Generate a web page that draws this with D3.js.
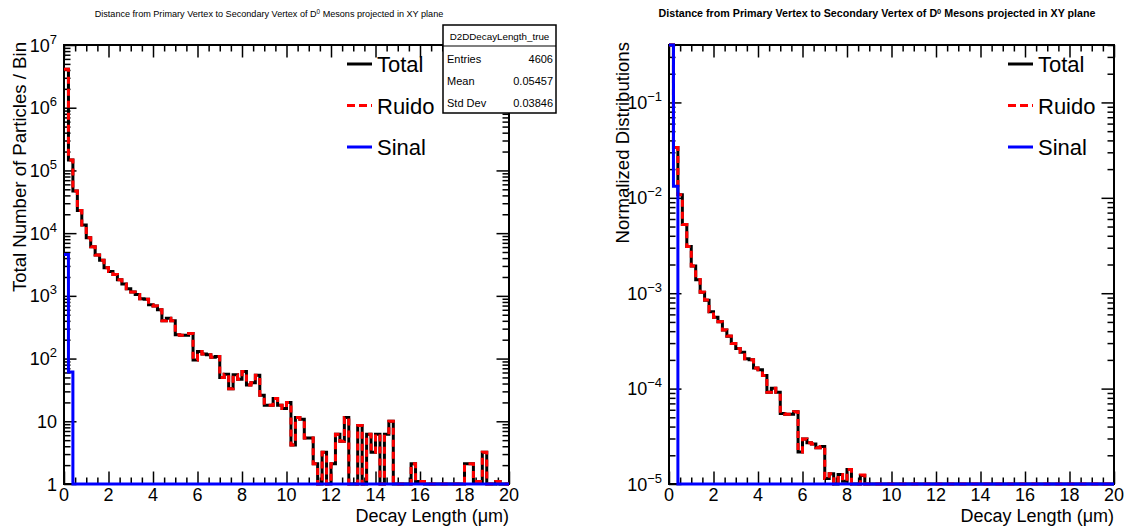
<!DOCTYPE html>
<html><head><meta charset="utf-8">
<script src="https://cdn.jsdelivr.net/npm/d3@7"></script>
<style>
body{margin:0;background:#fff}
svg{display:block}
text{font-family:"Liberation Sans",Arial,Helvetica,sans-serif;fill:#000}
</style>
</head><body>
<svg id="c" width="1128" height="527"></svg>
<script>
// ---------------- data ----------------
const xMin = 0, xMax = 20, nBins = 100;
const totalCounts = [
 4100000,147000,47000,23000,13500,8450,6070,4470,3700,2800,
 2450,2200,1800,1550,1300,1150,1050,900,880,720,
 690,600,400,440,400,240,235,235,250,95,
 130,118,115,105,108,50,56,33,55,47,
 62,38,41,54,26,18,18,23,18,16,
 20,4.2,11.5,10.8,5.4,5.4,2.1,0,3.2,0,
 2.1,6.2,4.8,11.5,0,0,8.6,0,6.2,3.2,
 6.2,0,6.2,10,0,0,0,0,2.1,1.1,
 1.1,0,0,0,0,0,0,0,0,0,
 2.1,2.1,1.1,1.1,3.2,0,0,1.1,0,0];
const noiseCounts = [
 4095455,146939,47000,23000,13500,8450,6070,4470,3700,2800,
 2450,2200,1800,1550,1300,1150,1050,900,880,720,
 690,600,400,440,400,240,235,235,250,95,
 130,118,115,105,108,50,56,33,55,47,
 62,38,41,54,26,18,18,23,18,16,
 20,4.2,11.5,10.8,5.4,5.4,2.1,0,3.2,0,
 2.1,6.2,4.8,11.5,0,0,8.6,0,6.2,3.2,
 6.2,0,6.2,10,0,0,0,0,2.1,1.1,
 1.1,0,0,0,0,0,0,0,0,0,
 2.1,2.1,1.1,1.1,3.2,0,0,1.1,0,0];
const signalCounts = [
 4545,61,0,0,0,0,0,0,0,0, 0,0,0,0,0,0,0,0,0,0,
 0,0,0,0,0,0,0,0,0,0, 0,0,0,0,0,0,0,0,0,0,
 0,0,0,0,0,0,0,0,0,0, 0,0,0,0,0,0,0,0,0,0,
 0,0,0,0,0,0,0,0,0,0, 0,0,0,0,0,0,0,0,0,0,
 0,0,0,0,0,0,0,0,0,0, 0,0,0,0,0,0,0,0,0,0];
const totalNorm = [
 0.937,0.0336,0.01074,0.00526,0.003086,0.001931,0.001387,0.001022,0.000846,0.00064,
 0.00056,0.000503,0.000411,0.000354,0.000297,0.000263,0.00024,0.000206,0.000201,0.0001646,
 0.0001577,0.0001371,0.0000914,0.0001006,0.0000914,5.49e-5,5.37e-5,5.37e-5,5.71e-5,2.17e-5,
 2.97e-5,2.70e-5,2.63e-5,2.40e-5,2.47e-5,1.14e-5,1.28e-5,7.5e-6,1.26e-5,1.07e-5,
 1.42e-5,8.7e-6,9.4e-6,1.23e-5,5.9e-6,4.1e-6,4.1e-6,5.3e-6,4.1e-6,3.7e-6,
 4.6e-6,9.6e-7,2.6e-6,2.5e-6,1.2e-6,1.2e-6,4.8e-7,0,7.3e-7,0,
 4.8e-7,1.4e-6,1.1e-6,2.6e-6,0,0,2.0e-6,0,1.4e-6,7.3e-7,
 1.4e-6,0,1.4e-6,2.3e-6,0,0,0,0,4.8e-7,2.5e-7,
 2.5e-7,0,0,0,0,0,0,0,0,0,
 4.8e-7,4.8e-7,2.5e-7,2.5e-7,7.3e-7,0,0,2.5e-7,0,0];
const noiseNorm = [
 0.9371,0.03362,0.01075,0.005265,0.003089,0.001933,0.001389,0.001023,0.000847,0.000641,
 0.000561,0.000503,0.000412,0.000355,0.000297,0.000263,0.00024,0.000206,0.000201,0.0001648,
 0.0001579,0.0001373,0.0000915,0.0001007,0.0000915,5.49e-5,5.38e-5,5.38e-5,5.72e-5,2.17e-5,
 2.97e-5,2.70e-5,2.63e-5,2.40e-5,2.47e-5,1.14e-5,1.28e-5,7.6e-6,1.26e-5,1.08e-5,
 1.42e-5,8.7e-6,9.4e-6,1.24e-5,5.9e-6,4.1e-6,4.1e-6,5.3e-6,4.1e-6,3.7e-6,
 4.6e-6,9.6e-7,2.6e-6,2.5e-6,1.2e-6,1.2e-6,4.8e-7,0,7.3e-7,0,
 4.8e-7,1.4e-6,1.1e-6,2.6e-6,0,0,2.0e-6,0,1.4e-6,7.3e-7,
 1.4e-6,0,1.4e-6,2.3e-6,0,0,0,0,4.8e-7,2.5e-7,
 2.5e-7,0,0,0,0,0,0,0,0,0,
 4.8e-7,4.8e-7,2.5e-7,2.5e-7,7.3e-7,0,0,2.5e-7,0,0];
const signalNorm = [
 0.9868,0.0132,0,0,0,0,0,0,0,0, 0,0,0,0,0,0,0,0,0,0,
 0,0,0,0,0,0,0,0,0,0, 0,0,0,0,0,0,0,0,0,0,
 0,0,0,0,0,0,0,0,0,0, 0,0,0,0,0,0,0,0,0,0,
 0,0,0,0,0,0,0,0,0,0, 0,0,0,0,0,0,0,0,0,0,
 0,0,0,0,0,0,0,0,0,0, 0,0,0,0,0,0,0,0,0,0];
const xTickValues = [0,2,4,6,8,10,12,14,16,18,20];
const leftYExponents = [0,1,2,3,4,5,6,7];
const rightYExponents = [-5,-4,-3,-2,-1];
const legendLabels = ["Total","Ruido","Sinal"];
const statsName = "D2DDecayLength_true";
const statsRows = [["Entries","4606"],["Mean","0.05457"],["Std Dev","0.03846"]];
const titleMain = "Distance from Primary Vertex to Secondary Vertex of D";
const titleSup = "0";
const titleEnd = " Mesons projected in XY plane";
const xTitle = "Decay Length (\u03bcm)";
const leftYTitle = "Total Number of Particles / Bin";
const rightYTitle = "Normalized Distributions";

// ---------------- drawing ----------------
const svg = d3.select("#c");
svg.append("rect").attr("width",1128).attr("height",527).attr("fill","#fff");

const colors = {total:"#000000", noise:"#ff0000", signal:"#0000ff"};
const binW = (xMax - xMin) / nBins;

function title(xc, bold, size){
  const t = svg.append("text").attr("x",xc).attr("y",17).attr("text-anchor","middle")
    .attr("font-size",size).attr("font-weight",bold?"bold":"normal");
  t.append("tspan").text(titleMain);
  t.append("tspan").attr("dy",-3.5).attr("font-size",size*0.7).text(titleSup);
  t.append("tspan").attr("dy",3.5).text(titleEnd);
}

function panel(cfg){
  const g = svg.append("g");
  const x = d3.scaleLinear().domain([xMin,xMax]).range([cfg.x0,cfg.x1]);
  const y = d3.scaleLog().domain(cfg.yDomain).range([cfg.y1,cfg.y0]);
  const [ymin,ymax] = cfg.yDomain;

  // frame
  g.append("rect").attr("x",cfg.x0).attr("y",cfg.y0)
    .attr("width",cfg.x1-cfg.x0).attr("height",cfg.y1-cfg.y0)
    .attr("fill","none").attr("stroke","#000").attr("stroke-width",2);

  // x ticks
  const xMinor = d3.range(xMin, xMax+0.001, 0.5).filter(v => Math.abs(v/2 - Math.round(v/2))>1e-6);
  const tickG = g.append("g").attr("stroke","#000").attr("stroke-width",1.5);
  function xt(vals, len){
    tickG.append("g").attr("transform",`translate(0,${cfg.y1})`)
      .call(d3.axisBottom(x).tickValues(vals).tickSize(-len).tickFormat(""))
      .call(s=>s.select(".domain").remove());
    tickG.append("g").attr("transform",`translate(0,${cfg.y0})`)
      .call(d3.axisTop(x).tickValues(vals).tickSize(-len).tickFormat(""))
      .call(s=>s.select(".domain").remove());
  }
  xt(xTickValues, 12.5);
  xt(xMinor, 6.5);

  // y ticks
  const lo = Math.floor(Math.log10(ymin)), hi = Math.ceil(Math.log10(ymax));
  const yMajor = cfg.exps.map(e => Math.pow(10,e));
  const yMinor = [];
  for(let d=lo; d<=hi; d++) for(let k=2;k<=9;k++){ const v=k*Math.pow(10,d); if(v>=ymin && v<=ymax*1.001) yMinor.push(v); }
  function yt(vals, len){
    tickG.append("g").attr("transform",`translate(${cfg.x0},0)`)
      .call(d3.axisLeft(y).tickValues(vals).tickSize(-len).tickFormat(""))
      .call(s=>s.select(".domain").remove());
    tickG.append("g").attr("transform",`translate(${cfg.x1},0)`)
      .call(d3.axisRight(y).tickValues(vals).tickSize(-len).tickFormat(""))
      .call(s=>s.select(".domain").remove());
  }
  yt(yMajor, 12.5);
  yt(yMinor, 6.5);
  tickG.selectAll("line").attr("stroke","#000");

  // x tick labels
  g.selectAll(".xl").data(xTickValues).enter().append("text")
    .attr("x",d=>x(d)).attr("y",501).attr("text-anchor","middle").attr("font-size",18)
    .text(d=>d);

  // y tick labels
  cfg.exps.forEach(e=>{
    const yy = y(Math.pow(10,e));
    const t = g.append("text").attr("x",cfg.x0-7).attr("y",yy+6.5).attr("text-anchor","end").attr("font-size",18);
    if(e===0) t.text("1");
    else if(e===1) t.text("10");
    else {
      t.append("tspan").text("10");
      t.append("tspan").attr("dy",-8).attr("font-size",13).text(e<0 ? "\u2212"+(-e) : String(e));
    }
  });

  // histograms
  const clamp = v => (v<=ymin ? ymin : (v>=ymax ? ymax : v));
  const line = d3.line().x(d=>x(d[0])).y(d=>y(clamp(d[1]))).curve(d3.curveStepAfter);
  function pts(arr){
    const p = arr.map((v,i)=>[xMin+i*binW, v]);
    p.push([xMax, arr[arr.length-1]]);
    return p;
  }
  g.append("path").attr("d",line(pts(cfg.total))).attr("fill","none")
    .attr("stroke",colors.total).attr("stroke-width",3);
  g.append("path").attr("d",line(pts(cfg.noise))).attr("fill","none")
    .attr("stroke",colors.noise).attr("stroke-width",3).attr("stroke-dasharray","7,5");
  g.append("path").attr("d",line(pts(cfg.signal))).attr("fill","none")
    .attr("stroke",colors.signal).attr("stroke-width",3);

  // axis titles
  g.append("text").attr("x",cfg.x1).attr("y",521.5).attr("text-anchor","end").attr("font-size",18).text(xTitle);
  g.append("text").attr("transform",`translate(${cfg.yTitleX},${cfg.y0-3}) rotate(-90)`)
    .attr("text-anchor","end").attr("font-size",18.6).text(cfg.yTitle);

  // legend
  const legStyles = [
    {c:colors.total, dash:null},
    {c:colors.noise, dash:"8,4"},
    {c:colors.signal, dash:null}];
  legendLabels.forEach((lab,i)=>{
    const cy = 64 + i*41.5;
    const l = g.append("line").attr("x1",cfg.legX).attr("x2",cfg.legX+25).attr("y1",cy).attr("y2",cy)
      .attr("stroke",legStyles[i].c).attr("stroke-width",3);
    if(legStyles[i].dash) l.attr("stroke-dasharray",legStyles[i].dash);
    g.append("text").attr("x",cfg.legX+30).attr("y",cy+8).attr("font-size",22).text(lab);
  });
  return g;
}

title(269, false, 9.1);
title(877, true, 10.7);

panel({x0:64,x1:509,y0:45,y1:484,yDomain:[1,1e7],exps:leftYExponents,
  total:totalCounts,noise:noiseCounts,signal:signalCounts,
  yTitle:leftYTitle,yTitleX:26,legX:347});
panel({x0:669,x1:1114,y0:45,y1:484,yDomain:[1e-5,0.40],exps:rightYExponents,
  total:totalNorm,noise:noiseNorm,signal:signalNorm,
  yTitle:rightYTitle,yTitleX:629,legX:1008});

// stats box
const sb = svg.append("g");
sb.append("rect").attr("x",443).attr("y",25).attr("width",113).attr("height",88)
  .attr("fill","#fff").attr("stroke","#000").attr("stroke-width",1.5);
sb.append("line").attr("x1",443).attr("x2",556).attr("y1",46).attr("y2",46).attr("stroke","#000").attr("stroke-width",1.2);
sb.append("text").attr("x",499.5).attr("y",39.5).attr("text-anchor","middle").attr("font-size",9.8).text(statsName);
statsRows.forEach((r,i)=>{
  const yy = 63 + i*22;
  sb.append("text").attr("x",447).attr("y",yy).attr("font-size",11).text(r[0]);
  sb.append("text").attr("x",553).attr("y",yy).attr("text-anchor","end").attr("font-size",11).text(r[1]);
});
</script>
</body></html>
